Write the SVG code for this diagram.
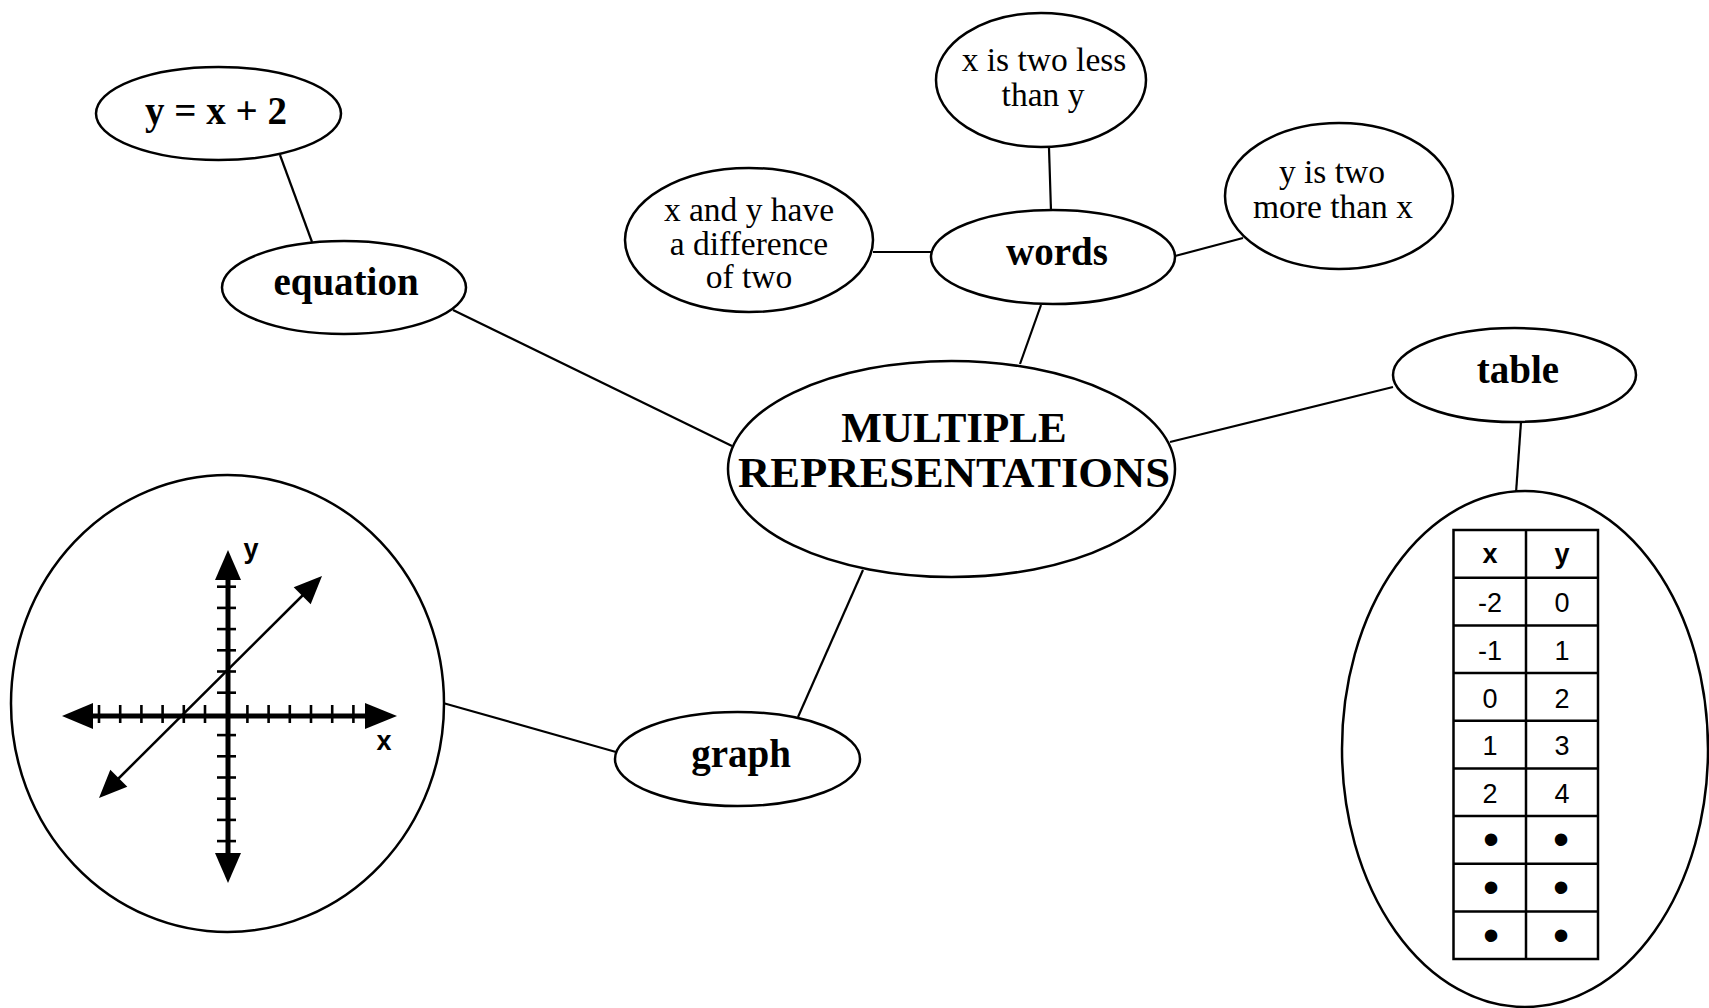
<svg xmlns="http://www.w3.org/2000/svg" width="1709" height="1008" viewBox="0 0 1709 1008">
<style>
.node{fill:#fff;stroke:#000;stroke-width:2.5}
.conn line{stroke:#000;stroke-width:2.2}
.lbl{font-family:"Liberation Serif","Times New Roman",serif;font-weight:bold;font-size:39px;text-anchor:middle;fill:#000}
.big{font-family:"Liberation Serif","Times New Roman",serif;font-weight:bold;font-size:43px;text-anchor:middle;fill:#000}
.sm{font-family:"Liberation Serif","Times New Roman",serif;font-size:33.5px;text-anchor:middle;fill:#000}
.ax{stroke:#000;stroke-width:5}
.tk{stroke:#000;stroke-width:2.6}
.sans{font-family:"Liberation Sans",Arial,sans-serif;font-size:27px;text-anchor:middle;fill:#000}
.sb{font-weight:bold}
.bul{font-size:46px}
.tb{fill:none;stroke:#000;stroke-width:2.5}
</style>
<rect width="1709" height="1008" fill="#fff"/>
<g class="conn" id="connectors">
<line x1="280" y1="155" x2="312" y2="242"/>
<line x1="453" y1="310" x2="732" y2="446"/>
<line x1="1049" y1="148" x2="1051" y2="211"/>
<line x1="873" y1="252" x2="931" y2="252"/>
<line x1="1175" y1="256" x2="1243" y2="238"/>
<line x1="1041" y1="305" x2="1020" y2="364"/>
<line x1="1170" y1="442" x2="1393" y2="387"/>
<line x1="1521" y1="422" x2="1516" y2="493"/>
<line x1="863" y1="570" x2="798" y2="717"/>
<line x1="616" y1="752" x2="443" y2="703"/>
</g>
<g id="n-eq2">
<ellipse class="node" cx="218.5" cy="113.5" rx="122.5" ry="46.5"/>
<text class="lbl" x="216" y="124">y = x + 2</text>
</g>
<g id="n-equation">
<ellipse class="node" cx="344" cy="287.5" rx="122" ry="46.5"/>
<text class="lbl" x="346" y="295">equation</text>
</g>
<g id="n-less">
<ellipse class="node" cx="1041" cy="80" rx="105" ry="67"/>
<text class="sm" x="1044" y="71">x is two less</text>
<text class="sm" x="1043" y="106">than y</text>
</g>
<g id="n-more">
<ellipse class="node" cx="1339" cy="196" rx="114" ry="73"/>
<text class="sm" x="1332" y="183">y is two</text>
<text class="sm" x="1333" y="218">more than x</text>
</g>
<g id="n-diff">
<ellipse class="node" cx="749" cy="240" rx="124" ry="72"/>
<text class="sm" x="749" y="221">x and y have</text>
<text class="sm" x="749" y="255">a difference</text>
<text class="sm" x="749" y="288">of two</text>
</g>
<g id="n-words">
<ellipse class="node" cx="1053" cy="257" rx="122" ry="47"/>
<text class="lbl" x="1057" y="265">words</text>
</g>
<g id="n-center">
<ellipse class="node" cx="951.5" cy="469" rx="223.5" ry="108"/>
<text class="big" x="954" y="442">MULTIPLE</text>
<text class="big" x="954" y="487" textLength="432" lengthAdjust="spacingAndGlyphs">REPRESENTATIONS</text>
</g>
<g id="n-table">
<ellipse class="node" cx="1514.5" cy="375" rx="121.5" ry="47"/>
<text class="lbl" x="1518" y="383">table</text>
</g>
<g id="n-graph">
<ellipse class="node" cx="737.5" cy="759" rx="122.5" ry="47"/>
<text class="lbl" x="741" y="767">graph</text>
</g>
<g id="n-graph-pic">
<ellipse class="node" cx="227.5" cy="703.5" rx="216.5" ry="228.5"/>
<line class="ax" x1="93" y1="716" x2="365" y2="716"/>
<line class="ax" x1="228" y1="580" x2="228" y2="853"/>
<polygon points="62,716 93,703 93,729"/>
<polygon points="397,716 365,703 365,729"/>
<polygon points="228,550 215,580 241,580"/>
<polygon points="228,883 215,853 241,853"/>
<g class="tk">
<line x1="99" y1="705" x2="99" y2="723"/>
<line x1="120.2" y1="705" x2="120.2" y2="723"/>
<line x1="141.4" y1="705" x2="141.4" y2="723"/>
<line x1="162.6" y1="705" x2="162.6" y2="723"/>
<line x1="183.8" y1="705" x2="183.8" y2="723"/>
<line x1="205" y1="705" x2="205" y2="723"/>
<line x1="247.4" y1="705" x2="247.4" y2="723"/>
<line x1="268.6" y1="705" x2="268.6" y2="723"/>
<line x1="289.8" y1="705" x2="289.8" y2="723"/>
<line x1="311" y1="705" x2="311" y2="723"/>
<line x1="332.2" y1="705" x2="332.2" y2="723"/>
<line x1="353.4" y1="705" x2="353.4" y2="723"/>
<line x1="217" y1="586.7" x2="236" y2="586.7"/>
<line x1="217" y1="607.9" x2="236" y2="607.9"/>
<line x1="217" y1="629.1" x2="236" y2="629.1"/>
<line x1="217" y1="650.3" x2="236" y2="650.3"/>
<line x1="217" y1="671.5" x2="236" y2="671.5"/>
<line x1="217" y1="692.7" x2="236" y2="692.7"/>
<line x1="217" y1="735.1" x2="236" y2="735.1"/>
<line x1="217" y1="756.3" x2="236" y2="756.3"/>
<line x1="217" y1="777.5" x2="236" y2="777.5"/>
<line x1="217" y1="798.7" x2="236" y2="798.7"/>
<line x1="217" y1="819.9" x2="236" y2="819.9"/>
<line x1="217" y1="841.1" x2="236" y2="841.1"/>
</g>
<line x1="116" y1="781" x2="305" y2="593" stroke="#000" stroke-width="2.5"/>
<polygon points="322,576 310.7,604.3 293.7,587.2"/>
<polygon points="99,798 127.3,786.7 110.3,769.7"/>
<text class="sans sb" x="251" y="558" font-size="29">y</text>
<text class="sans sb" x="384" y="750" font-size="29">x</text>
</g>
<g id="n-table-pic">
<ellipse class="node" cx="1525" cy="749" rx="183" ry="258"/>
<rect class="tb" x="1453.5" y="530" width="144.5" height="429"/>
<line class="tb" x1="1526" y1="530" x2="1526" y2="959"/>
<g class="tb">
<line x1="1453.5" y1="577.7" x2="1598" y2="577.7"/>
<line x1="1453.5" y1="625.4" x2="1598" y2="625.4"/>
<line x1="1453.5" y1="673.1" x2="1598" y2="673.1"/>
<line x1="1453.5" y1="720.8" x2="1598" y2="720.8"/>
<line x1="1453.5" y1="768.4" x2="1598" y2="768.4"/>
<line x1="1453.5" y1="816.1" x2="1598" y2="816.1"/>
<line x1="1453.5" y1="863.8" x2="1598" y2="863.8"/>
<line x1="1453.5" y1="911.4" x2="1598" y2="911.4"/>
</g>
<text class="sans sb" x="1490" y="563" font-size="28">x</text>
<text class="sans sb" x="1562" y="563" font-size="28">y</text>
<text class="sans" x="1490" y="612">-2</text><text class="sans" x="1562" y="612">0</text>
<text class="sans" x="1490" y="659.5">-1</text><text class="sans" x="1562" y="659.5">1</text>
<text class="sans" x="1490" y="707.5">0</text><text class="sans" x="1562" y="707.5">2</text>
<text class="sans" x="1490" y="755">1</text><text class="sans" x="1562" y="755">3</text>
<text class="sans" x="1490" y="802.5">2</text><text class="sans" x="1562" y="802.5">4</text>
<text class="sans bul" x="1491" y="855">•</text><text class="sans bul" x="1561" y="855">•</text>
<text class="sans bul" x="1491" y="903">•</text><text class="sans bul" x="1561" y="903">•</text>
<text class="sans bul" x="1491" y="950.5">•</text><text class="sans bul" x="1561" y="950.5">•</text>
</g>
</svg>
